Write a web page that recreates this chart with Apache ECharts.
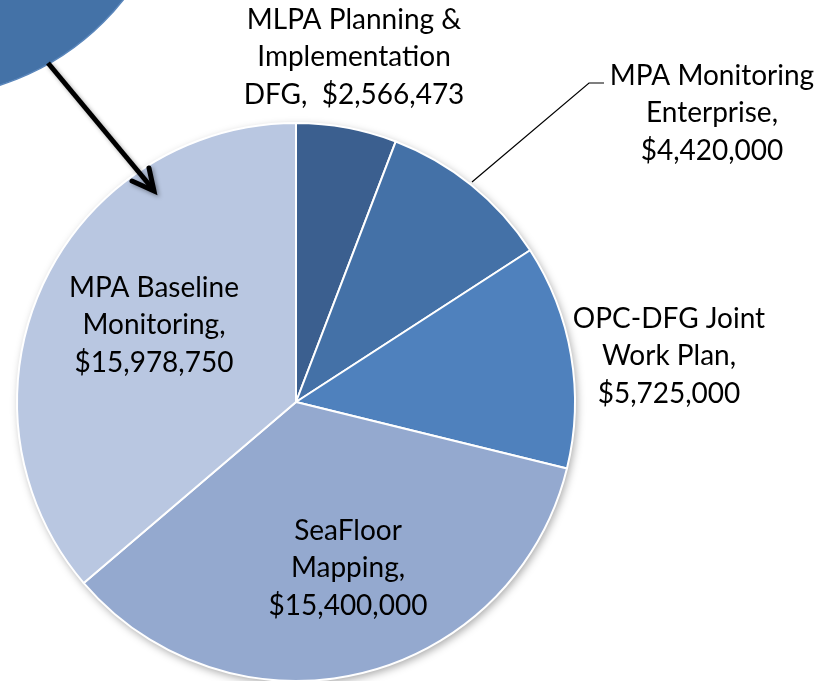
<!DOCTYPE html>
<html>
<head>
<meta charset="utf-8">
<script src="https://cdn.jsdelivr.net/npm/echarts@6/dist/echarts.min.js"></script>
<style>html,body{margin:0;padding:0;background:#fff}#c{width:840px;height:681px}</style>
</head>
<body>
<div id="c"></div>
<script>
const categories = ['MLPA Planning &\nImplementation\nDFG,', 'MPA Monitoring\nEnterprise,', 'OPC-DFG Joint\nWork Plan,', 'SeaFloor\nMapping,', 'MPA Baseline\nMonitoring,'];
const values = [2566473, 4420000, 5725000, 15400000, 15978750];
const colors = ['#3b5f8f', '#4471a7', '#4f81bd', '#94a9cf', '#b9c7e1'];

const fmt = v => '$' + v.toLocaleString('en-US');
const labelText = [
  categories[0] + '  ' + fmt(values[0]),
  categories[1] + '\n' + fmt(values[1]),
  categories[2] + '\n' + fmt(values[2]),
  categories[3] + '\n' + fmt(values[3]),
  categories[4] + '\n' + fmt(values[4])
];
// label centres (layout only)
const labelPos = [[354, 57], [712, 113], [669, 356], [348, 568], [154, 325]];

const chart = echarts.init(document.getElementById('c'), null, {renderer: 'canvas'});
const font = 'Lato';
chart.setOption({
  animation: false,
  graphic: [
    {type: 'circle', shape: {cx: -77, cy: -158, r: 255}, style: {fill: '#4472a7', stroke: '#5a86bb', lineWidth: 1.5}, z: 1},
    {type: 'polyline', shape: {points: [[48, 63], [152, 188]]}, style: {stroke: '#000', lineWidth: 5, shadowBlur: 4, shadowColor: 'rgba(0,0,0,0.35)', shadowOffsetX: 2, shadowOffsetY: 2}, z: 10},
    {type: 'polyline', shape: {points: [[132, 181], [154, 191], [149, 168]]}, style: {stroke: '#000', lineWidth: 5, lineJoin: 'miter', lineCap: 'round', fill: null, shadowBlur: 4, shadowColor: 'rgba(0,0,0,0.35)', shadowOffsetX: 2, shadowOffsetY: 2}, z: 10}
  ],
  series: [
    {
      type: 'pie', silent: true, center: [296, 402], radius: 279, z: 1,
      label: {show: false}, labelLine: {show: false},
      itemStyle: {color: '#ffffff', shadowBlur: 8, shadowColor: 'rgba(0,0,0,0.35)', shadowOffsetX: 2, shadowOffsetY: 3},
      data: [{value: 1, name: 'bg'}]
    },
    {
      type: 'pie',
      center: [296, 402],
      radius: 279,
      startAngle: 90,
      clockwise: true,
      avoidLabelOverlap: false,
      z: 2,
      itemStyle: {borderColor: '#ffffff', borderWidth: 2},
      label: {
        show: true,
        position: 'outside',
        overflow: 'none',
        color: '#000',
        fontFamily: font,
        fontSize: 28,
        lineHeight: 37.5,
        align: 'center',
        formatter: p => labelText[p.dataIndex]
      },
      labelLine: {show: true, lineStyle: {color: '#000', width: 1.2}},
      labelLayout: function (params) {
        const i = params.dataIndex;
        const r = {x: labelPos[i][0], y: labelPos[i][1], align: 'center', verticalAlign: 'middle', moveOverlap: false, hideOverlap: false};
        if (i === 1) {
          r.labelLinePoints = [[472, 182], [589, 83], [604, 83]];
        }
        return r;
      },
      data: categories.map((c, i) => ({
        name: c, value: values[i], itemStyle: {color: colors[i]},
        label: {position: i >= 3 ? 'inside' : 'outside'},
        labelLine: {show: i === 1}
      }))
    }
  ]
});
</script>
</body>
</html>
